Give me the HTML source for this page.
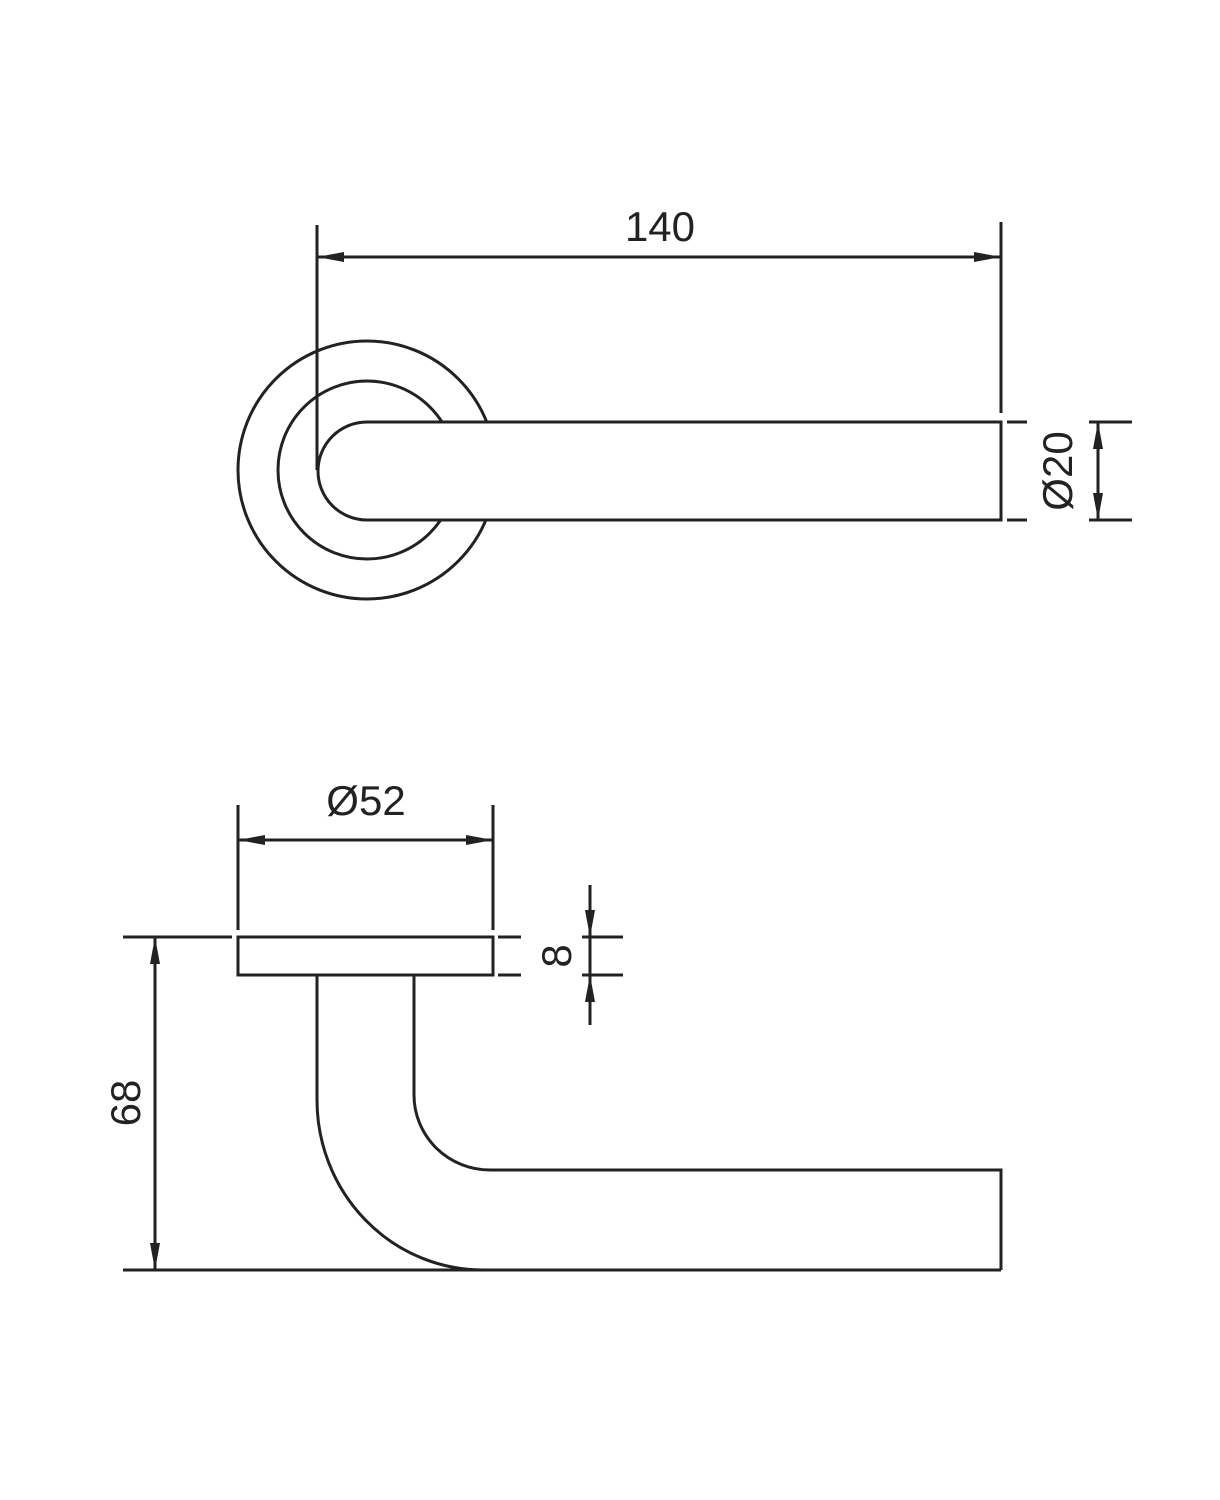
<!DOCTYPE html>
<html><head><style>body{margin:0;background:#fff}svg{display:block}</style></head><body>
<svg width="1220" height="1500" viewBox="0 0 1220 1500" xmlns="http://www.w3.org/2000/svg">
<g stroke="#222" stroke-width="3" fill="none">
<!-- top view -->
<circle cx="367" cy="470" r="129"/>
<circle cx="367" cy="470" r="89"/>
<path d="M1001,422 H367 A49,49 0 0 0 367,520 H1001 Z" fill="#fff"/>
<line x1="317" y1="225" x2="317" y2="470"/>
<line x1="1001" y1="222" x2="1001" y2="413"/>
<line x1="317" y1="257" x2="1001" y2="257"/>
<line x1="1007" y1="422" x2="1027" y2="422"/><line x1="1007" y1="520" x2="1027" y2="520"/>
<line x1="1089" y1="422" x2="1132" y2="422"/><line x1="1089" y1="520" x2="1132" y2="520"/>
<line x1="1098" y1="422" x2="1098" y2="520"/>
<!-- side view -->
<rect x="238" y="937" width="255" height="38"/>
<path d="M317,975 V1100 A166,170 0 0 0 483,1270"/>
<path d="M414,975 V1095 A76,75 0 0 0 490,1170 H1001 V1270"/>
<line x1="123" y1="1270" x2="1001" y2="1270"/>
<line x1="123" y1="937" x2="232" y2="937"/>
<line x1="498" y1="937" x2="521" y2="937"/><line x1="498" y1="975" x2="521" y2="975"/>
<line x1="582" y1="937" x2="623" y2="937"/><line x1="582" y1="975" x2="623" y2="975"/>
<line x1="590" y1="885" x2="590" y2="1025"/>
<line x1="238" y1="805" x2="238" y2="930"/><line x1="493" y1="805" x2="493" y2="930"/>
<line x1="238" y1="840" x2="493" y2="840"/>
<line x1="155" y1="937" x2="155" y2="1270"/>
</g>
<g fill="#222">
<!-- 140 arrows -->
<polygon points="317,257 344,252 344,262"/>
<polygon points="1001,257 974,252 974,262"/>
<!-- Ø20 arrows -->
<polygon points="1098,422 1093,449 1103,449"/>
<polygon points="1098,520 1093,493 1103,493"/>
<!-- Ø52 arrows -->
<polygon points="238,840 265,835 265,845"/>
<polygon points="493,840 466,835 466,845"/>
<!-- 8 arrows -->
<polygon points="590,937 585,910 595,910"/>
<polygon points="590,975 585,1002 595,1002"/>
<!-- 68 arrows -->
<polygon points="155,937 150,964 160,964"/>
<polygon points="155,1270 150,1243 160,1243"/>
</g>
<g font-family="Liberation Sans, sans-serif" font-size="42" fill="#222" text-anchor="middle">
<text x="660" y="241">140</text>
<text x="366" y="815">Ø52</text>
<text transform="translate(1072,471) rotate(-90)">Ø20</text>
<text transform="translate(571,956) rotate(-90)">8</text>
<text transform="translate(140,1103) rotate(-90)">68</text>
</g>
</svg>
</body></html>
